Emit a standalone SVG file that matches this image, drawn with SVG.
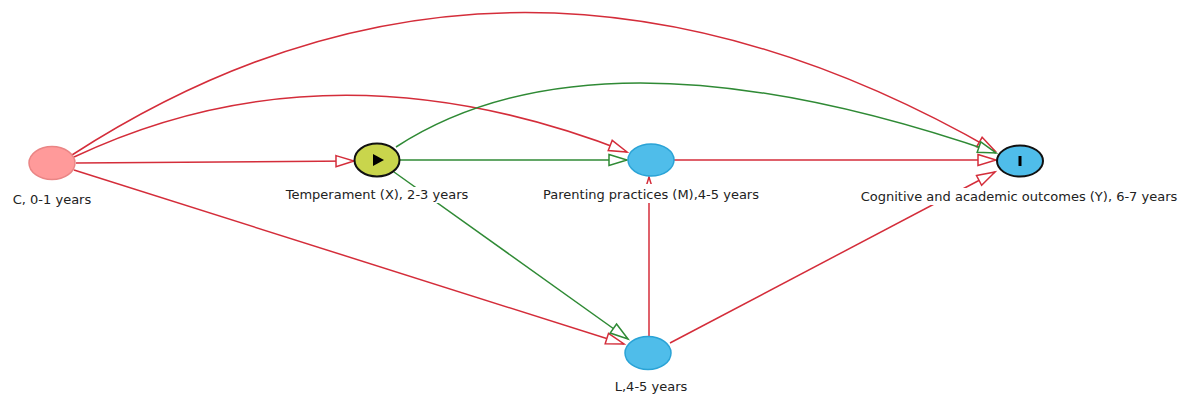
<svg xmlns="http://www.w3.org/2000/svg" width="1187" height="396" viewBox="0 0 1187 396">
<style>
.red{fill:none;stroke:#d42d3a;stroke-width:1.5}
.grn{fill:none;stroke:#2f8a35;stroke-width:1.5}
.lbl{font-family:"DejaVu Sans","Liberation Sans",sans-serif;font-size:13px;fill:#222;text-anchor:middle}
.bg{fill:#fff}
.blue{fill:#4fbdea;stroke:#2aa3d6;stroke-width:1.5}
</style>
<defs>
<marker id="ar" markerUnits="userSpaceOnUse" markerWidth="22" markerHeight="14" refX="18" refY="6" orient="auto" overflow="visible">
<path d="M0,0.5 L18,6 L0,11.5 Z" fill="#fff" stroke="#d42d3a" stroke-width="1.5"/>
</marker>
<marker id="ag" markerUnits="userSpaceOnUse" markerWidth="22" markerHeight="14" refX="18" refY="6" orient="auto" overflow="visible">
<path d="M0,0.5 L18,6 L0,11.5 Z" fill="#fff" stroke="#2f8a35" stroke-width="1.5"/>
</marker>
</defs>
<rect width="1187" height="396" fill="#fff"/>
<g id="connectors">
<path class="red" d="M72,155 Q510,-128 995,151" marker-end="url(#ar)"/>
<path class="red" d="M74,157 Q330,36 627,152" marker-end="url(#ar)"/>
<path class="red" d="M76,163 L354,161" marker-end="url(#ar)"/>
<path class="red" d="M74,170 L624,344" marker-end="url(#ar)"/>
<path class="grn" d="M396,147 Q598,16 996,153" marker-end="url(#ag)"/>
<path class="grn" d="M400,160 L627,160" marker-end="url(#ag)"/>
<path class="grn" d="M394,172 L628,339" marker-end="url(#ag)"/>
<path class="red" d="M674,160 L996,160" marker-end="url(#ar)"/>
<path class="red" d="M649,337 L649,177" marker-end="url(#ar)"/>
<path class="red" d="M670,343 L995,172" marker-end="url(#ar)"/>
</g>
<g id="node-C">
<ellipse cx="52" cy="163" rx="23" ry="16.5" fill="#ff9a9a" stroke="#ea8585" stroke-width="1.5"/>
<text class="lbl" x="52" y="204">C, 0-1 years</text>
</g>
<g id="node-X">
<rect class="bg" x="285" y="187" width="184" height="16"/>
<ellipse cx="377" cy="160" rx="22.5" ry="16.5" fill="#c9d54c" stroke="#111" stroke-width="2"/>
<path d="M373,154 L384,160 L373,166 Z" fill="#000"/>
<text class="lbl" x="377" y="199">Temperament (X), 2-3 years</text>
</g>
<g id="node-M">
<rect class="bg" x="541" y="184" width="220" height="19"/>
<ellipse class="blue" cx="651" cy="160" rx="23" ry="16"/>
<text class="lbl" x="651" y="199">Parenting practices (M),4-5 years</text>
</g>
<g id="node-Y">
<rect class="bg" x="859" y="188" width="320" height="17"/>
<ellipse cx="1020" cy="161" rx="23" ry="15.5" fill="#4fbdea" stroke="#111" stroke-width="2"/>
<rect x="1018.5" y="156" width="3" height="10" fill="#000"/>
<text class="lbl" x="1019" y="201">Cognitive and academic outcomes (Y), 6-7 years</text>
</g>
<g id="node-L">
<ellipse class="blue" cx="648" cy="353" rx="23" ry="16.5"/>
<text class="lbl" x="651" y="391">L,4-5 years</text>
</g>
</svg>
